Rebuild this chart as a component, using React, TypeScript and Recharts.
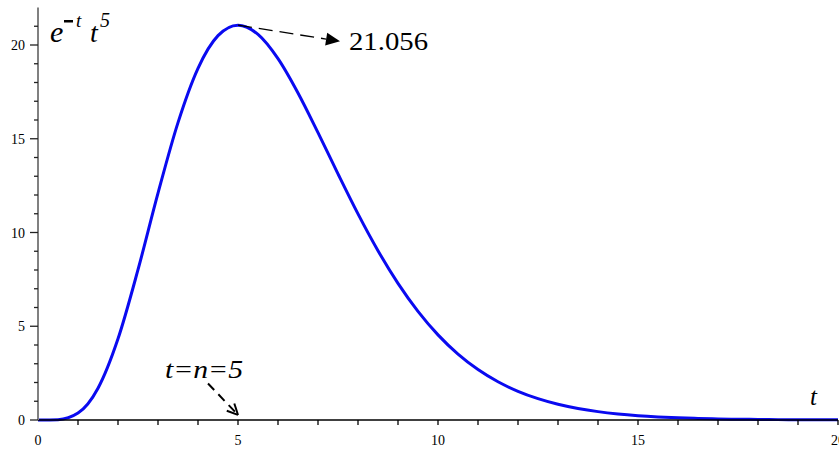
import React from 'react';
import { LineChart, Line, XAxis, YAxis, ReferenceLine, ReferenceDot } from 'recharts';

const tValues = [0, 0.5, 1, 1.5, 2, 2.5, 3, 3.5, 4, 4.5, 5, 5.5, 6, 6.5, 7, 7.5, 8, 8.5, 9, 9.5, 10, 10.5, 11, 11.5, 12, 12.5, 13, 13.5, 14, 14.5, 15, 15.5, 16, 16.5, 17, 17.5, 18, 18.5, 19, 19.5, 20];
const fValues = [0, 0.019, 0.368, 1.694, 4.331, 8.016, 12.098, 15.86, 18.755, 20.499, 21.056, 20.568, 19.275, 17.444, 15.326, 13.125, 10.992, 9.028, 7.287, 5.792, 4.54, 3.514, 2.69, 2.038, 1.529, 1.137, 0.839, 0.615, 0.447, 0.323, 0.232, 0.166, 0.118, 0.084, 0.059, 0.041, 0.029, 0.02, 0.014, 0.01, 0.007];
const xTicks = [0, 1, 2, 3, 4, 5, 6, 7, 8, 9, 10, 11, 12, 13, 14, 15, 16, 17, 18, 19, 20];
const xMajor = [0, 5, 10, 15, 20];
const yTicks = [0, 1, 2, 3, 4, 5, 6, 7, 8, 9, 10, 11, 12, 13, 14, 15, 16, 17, 18, 19, 20, 21];
const yMajor = [0, 5, 10, 15, 20];
const peak = { t: 5, v: 21.056, label: '21.056' };
const peakArrowEnd = { t: 7.55, v: 20.2 };
const nArrowStart = { t: 4.25, v: 1.95 };
const nArrowEnd = { t: 5, v: 0.27 };
const nLabel = { t: 3.175, v: 2.24, text: 't=n=5' };
const peakLabelPos = { t: 7.775, v: 19.73 };
const titlePos = { t: 0.3, v: 20.16 };
const axisLabelPos = { t: 19.3, v: 0.8, text: 't' };

const data = tValues.map((t, i) => ({ t, v: fValues[i] }));

const SERIF = 'Liberation Serif';

const XTick = (props: any) => {
  const { x, y, payload } = props;
  const val = payload.value;
  const isMajor = xMajor.includes(val);
  return (
    <g>
      {val !== 0 && <line x1={x} y1={y} x2={x} y2={y + 5} stroke="#000" strokeWidth={1.3} />}
      {isMajor && (
        <text x={x} y={y + 25} textAnchor="middle" fontFamily={SERIF} fontSize={14} fill="#000">
          {val}
        </text>
      )}
    </g>
  );
};

const YTick = (props: any) => {
  const { x, y, payload } = props;
  const val = payload.value;
  const isMajor = yMajor.includes(val);
  return (
    <g>
      <line x1={isMajor ? x - 8 : x - 4} y1={y} x2={x} y2={y} stroke="#222" strokeWidth={1.3} />
      {isMajor && (
        <text x={x - 13} y={y + 5} textAnchor="end" fontFamily={SERIF} fontSize={14} fill="#000">
          {val}
        </text>
      )}
    </g>
  );
};

const ArrowFilled = (props: any) => {
  const { x1, y1, x2, y2 } = props;
  const ang = Math.atan2(y2 - y1, x2 - x1);
  const len = 14;
  const w = 6.5;
  const bx = x2 - len * Math.cos(ang);
  const by = y2 - len * Math.sin(ang);
  const px = -Math.sin(ang) * w;
  const py = Math.cos(ang) * w;
  return (
    <g>
      <line x1={x1} y1={y1} x2={bx} y2={by} stroke="#000" strokeWidth={1.3} strokeDasharray="14 7" />
      <polygon points={`${x2},${y2} ${bx + px},${by + py} ${bx - px},${by - py}`} fill="#000" />
    </g>
  );
};

const ArrowOpen = (props: any) => {
  const { x1, y1, x2, y2 } = props;
  const ang = Math.atan2(y2 - y1, x2 - x1);
  const len = 12;
  const spread = 0.45;
  const ax = x2 - len * Math.cos(ang - spread);
  const ay = y2 - len * Math.sin(ang - spread);
  const bx = x2 - len * Math.cos(ang + spread);
  const by = y2 - len * Math.sin(ang + spread);
  return (
    <g>
      <line x1={x1} y1={y1} x2={x2} y2={y2} stroke="#000" strokeWidth={2} strokeDasharray="9 6" />
      <line x1={x2} y1={y2} x2={ax} y2={ay} stroke="#000" strokeWidth={2} />
      <line x1={x2} y1={y2} x2={bx} y2={by} stroke="#000" strokeWidth={2} />
    </g>
  );
};

const TitleShape = (props: any) => {
  const { cx, cy } = props;
  return (
    <g fontFamily={SERIF} fill="#000">
      <text x={cx} y={cy} fontSize={30} fontStyle="italic">e</text>
      <rect x={cx + 14} y={cy - 22} width={9} height={2.5} fill="#000" />
      <text x={cx + 26} y={cy - 15} fontSize={19} fontStyle="italic">t</text>
      <text x={cx + 40} y={cy} fontSize={28} fontStyle="italic">t</text>
      <text x={cx + 50} y={cy - 15} fontSize={20} fontStyle="italic">5</text>
    </g>
  );
};

const PeakLabelShape = (props: any) => {
  const { cx, cy } = props;
  return (
    <text x={cx} y={cy} fontFamily={SERIF} fontSize={26} fill="#000" textLength={79} lengthAdjust="spacingAndGlyphs">
      {peak.label}
    </text>
  );
};

const NLabelShape = (props: any) => {
  const { cx, cy } = props;
  return (
    <text x={cx} y={cy} fontFamily={SERIF} fontSize={25} fontStyle="italic" fill="#000" textLength={78} lengthAdjust="spacingAndGlyphs">
      {nLabel.text}
    </text>
  );
};

const AxisLabelShape = (props: any) => {
  const { cx, cy } = props;
  return (
    <text x={cx} y={cy} fontFamily={SERIF} fontSize={25} fontStyle="italic" fill="#000">
      {axisLabelPos.text}
    </text>
  );
};

export default function App() {
  return (
    <div style={{ position: 'absolute', left: 0, top: 0, width: 839, height: 450, overflow: 'hidden', background: '#fff' }}>
      <LineChart width={880} height={450} data={data} margin={{ top: 7.5, right: 42, bottom: 0, left: 8 }}>
        <XAxis
          dataKey="t"
          type="number"
          domain={[0, 20]}
          ticks={xTicks}
          interval={0}
          tickSize={0}
          tickMargin={0}
          tickLine={false}
          tick={<XTick />}
          axisLine={{ stroke: '#000', strokeWidth: 1.5 }}
          height={30}
        />
        <YAxis
          type="number"
          domain={[0, 22]}
          ticks={yTicks}
          interval={0}
          tickSize={0}
          tickMargin={0}
          tickLine={false}
          tick={<YTick />}
          axisLine={{ stroke: '#808080', strokeWidth: 2 }}
          width={30}
        />
        <Line type="monotone" dataKey="v" stroke="#0a0af0" strokeWidth={3} dot={false} isAnimationActive={false} />
        <ReferenceLine
          segment={[{ x: peak.t, y: peak.v }, { x: peakArrowEnd.t, y: peakArrowEnd.v }]}
          shape={<ArrowFilled />}
          ifOverflow="visible"
        />
        <ReferenceLine
          segment={[{ x: nArrowStart.t, y: nArrowStart.v }, { x: nArrowEnd.t, y: nArrowEnd.v }]}
          shape={<ArrowOpen />}
          ifOverflow="visible"
        />
        <ReferenceDot x={titlePos.t} y={titlePos.v} r={0} shape={<TitleShape />} ifOverflow="visible" />
        <ReferenceDot x={peakLabelPos.t} y={peakLabelPos.v} r={0} shape={<PeakLabelShape />} ifOverflow="visible" />
        <ReferenceDot x={nLabel.t} y={nLabel.v} r={0} shape={<NLabelShape />} ifOverflow="visible" />
        <ReferenceDot x={axisLabelPos.t} y={axisLabelPos.v} r={0} shape={<AxisLabelShape />} ifOverflow="visible" />
      </LineChart>
    </div>
  );
}
